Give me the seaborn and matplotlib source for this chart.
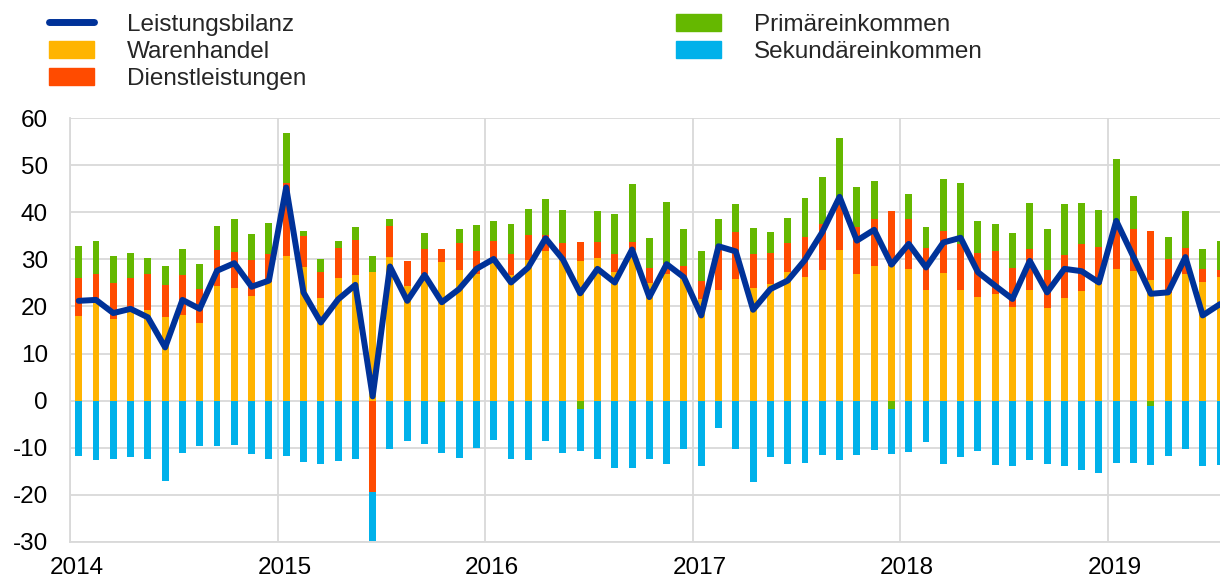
import numpy as np
import pandas as pd
import seaborn as sns
import matplotlib.pyplot as plt
from matplotlib.lines import Line2D
from matplotlib.patches import Patch

# Monthly data, Jan 2014 - Jul 2019
months = pd.date_range("2014-01", "2019-07", freq="MS").strftime("%Y-%m").tolist()

warenhandel = [17.9, 20.7, 17.4, 19.3, 19.3, 17.8, 18.2, 16.4, 24.4, 24.0, 22.3, 25.3,
               30.7, 28.3, 21.8, 26.0, 26.6, 27.4, 30.5, 24.3, 26.8, 29.5, 27.7, 27.0,
               29.3, 26.6, 29.9, 31.7, 29.8, 29.7, 30.2, 27.4, 32.0, 25.0, 26.8, 26.2,
               21.5, 23.6, 25.8, 23.9, 24.8, 27.3, 26.2, 27.8, 31.9, 26.9, 28.5, 28.7,
               27.9, 23.4, 27.2, 23.4, 22.1, 22.7, 19.8, 23.4, 19.6, 21.8, 23.2, 24.8,
               28.0, 27.6, 25.7, 22.8, 26.9, 25.1, 26.2]
dienstleistungen = [8.1, 6.1, 7.5, 6.7, 7.5, 6.8, 8.4, 7.3, 7.5, 7.5, 7.5, 5.8,
                    15.6, 6.6, 5.5, 6.4, 7.5, -19.5, 6.7, 5.4, 5.4, 2.7, 5.7, 4.7,
                    4.7, 4.6, 5.4, 3.4, 3.6, 3.9, 3.4, 3.8, 1.6, 3.1, 2.4, 2.3,
                    4.0, 9.2, 10.1, 7.2, 6.6, 6.1, 8.5, 9.7, 9.6, 10.1, 10.2, 11.5,
                    10.6, 9.0, 8.9, 9.9, 9.3, 9.0, 8.3, 8.8, 8.2, 9.1, 10.1, 7.8,
                    9.4, 8.9, 10.4, 7.2, 5.5, 2.9, 1.6]
primaereinkommen = [6.8, 7.2, 5.8, 5.4, 3.4, 3.9, 5.6, 5.3, 5.2, 7.0, 5.7, 6.6,
                    10.6, 1.2, 2.8, 1.6, 2.8, 3.3, 1.5, 0.0, 3.4, -0.3, 3.0, 5.7,
                    4.2, 6.3, 5.5, 7.7, 7.1, -1.7, 6.6, 8.4, 12.5, 6.5, 13.1, 8.0,
                    6.3, 5.7, 5.9, 5.6, 4.4, 5.4, 8.3, 10.1, 14.3, 8.5, 8.0, -1.8,
                    5.5, 4.6, 11.1, 12.9, 6.8, 5.9, 7.5, 9.8, 8.7, 10.9, 8.8, 7.9,
                    13.9, 6.9, -1.2, 4.8, 8.0, 4.2, 6.2]
sekundaereinkommen = [-11.8, -12.7, -12.4, -12.0, -12.5, -17.1, -11.1, -9.7, -9.7, -9.4, -11.3, -12.5,
                      -11.7, -13.1, -13.4, -12.8, -12.5, -10.4, -10.3, -8.6, -9.3, -10.9, -12.2, -10.1,
                      -8.3, -12.5, -12.7, -8.5, -11.1, -9.1, -12.5, -14.4, -14.4, -12.5, -13.5, -10.3,
                      -13.8, -5.9, -10.3, -17.4, -12.0, -13.5, -13.2, -11.5, -12.7, -11.5, -10.6, -9.5,
                      -11.0, -8.9, -13.5, -12.0, -10.8, -13.6, -14.0, -12.6, -13.5, -14.0, -14.7, -15.4,
                      -13.3, -13.2, -12.4, -11.8, -10.3, -14.0, -13.6]
leistungsbilanz = [21.2, 21.4, 18.6, 19.5, 17.7, 11.3, 21.4, 19.5, 27.6, 29.2, 24.2, 25.5,
                   45.3, 23.0, 16.6, 21.5, 24.6, 0.9, 28.5, 21.2, 26.7, 20.9, 23.7, 28.0,
                   30.1, 25.1, 28.3, 34.5, 30.0, 22.8, 28.0, 25.1, 32.1, 22.0, 29.0, 26.2,
                   18.1, 32.8, 31.7, 19.3, 23.7, 25.5, 29.9, 35.8, 43.3, 34.0, 36.3, 28.9,
                   33.3, 28.3, 33.6, 34.6, 27.3, 24.4, 21.6, 29.7, 23.0, 28.0, 27.5, 25.1,
                   38.2, 30.5, 22.7, 23.0, 30.5, 18.1, 20.5]
years = ["2014", "2015", "2016", "2017", "2018", "2019"]

names = ["Warenhandel", "Dienstleistungen", "Primäreinkommen", "Sekundäreinkommen"]
colors = {"Leistungsbilanz": "#003299", "Warenhandel": "#FFB400", "Dienstleistungen": "#FF4B00",
          "Primäreinkommen": "#65B800", "Sekundäreinkommen": "#00B1EA"}

df = pd.DataFrame({"Monat": months, "Warenhandel": warenhandel, "Dienstleistungen": dienstleistungen,
                   "Primäreinkommen": primaereinkommen, "Sekundäreinkommen": sekundaereinkommen,
                   "Leistungsbilanz": leistungsbilanz})
df["pos"] = np.arange(len(df))

# split into positive / negative stacks (cumulative, drawn from outermost to innermost)
pos_cum = np.zeros(len(df))
neg_cum = np.zeros(len(df))
layers = []
for name in names:
    v = df[name].to_numpy()
    pos_cum = pos_cum + np.clip(v, 0, None)
    neg_cum = neg_cum + np.clip(v, None, 0)
    layers.append((name, pos_cum.copy(), neg_cum.copy()))

sns.set_style("white")
plt.rcParams["font.family"] = ["Liberation Sans", "DejaVu Sans"]
plt.rcParams["axes.unicode_minus"] = False

fig = plt.figure(figsize=(12.2, 5.81), dpi=100)
ax = fig.add_axes([0.0574, 0.0676, 0.9426, 0.7288])

for name, top, bottom in reversed(layers):
    sns.barplot(x=df["pos"], y=top, color=colors[name], saturation=1, width=0.4,
                errorbar=None, linewidth=0, ax=ax, zorder=2)
    sns.barplot(x=df["pos"], y=bottom, color=colors[name], saturation=1, width=0.4,
                errorbar=None, linewidth=0, ax=ax, zorder=2)

sns.lineplot(x=df["pos"].to_numpy(), y=df["Leistungsbilanz"].to_numpy(), color=colors["Leistungsbilanz"],
             linewidth=4.3, ax=ax, zorder=3)

ax.set_xlim(-0.5, 66)
ax.set_ylim(-30, 60)
ax.set_yticks(range(-30, 61, 10))
year_edges = [-0.5 + 12 * i for i in range(len(years))]
ax.set_xticks([e + 0.4 for e in year_edges])
ax.set_xticklabels(years)
ax.set_xticks(year_edges, minor=True)
ax.tick_params(axis="both", which="both", length=0, labelsize=17.5, colors="black")
ax.tick_params(axis="y", pad=16)
ax.tick_params(axis="x", pad=11)
ax.set_xlabel("")
ax.set_ylabel("")

ax.set_axisbelow(True)
ax.grid(axis="y", color="#d9d9d9", linewidth=1.3)
ax.grid(axis="x", which="minor", color="#d9d9d9", linewidth=1.3)
ax.grid(axis="x", which="major", visible=False)
for side in ["top", "right"]:
    ax.spines[side].set_visible(False)
for side in ["left", "bottom"]:
    ax.spines[side].set_color("#d9d9d9")
    ax.spines[side].set_linewidth(1.3)

h1 = [Line2D([0], [0], color=colors["Leistungsbilanz"], linewidth=5),
      Patch(color=colors["Warenhandel"]), Patch(color=colors["Dienstleistungen"])]
h2 = [Patch(color=colors["Primäreinkommen"]), Patch(color=colors["Sekundäreinkommen"])]
leg_kw = dict(loc="upper left", frameon=False, fontsize=17.5, handlelength=1.85,
              handletextpad=1.35, labelspacing=0.2, borderpad=0, borderaxespad=0)
fig.legend(h1, ["Leistungsbilanz", "Warenhandel", "Dienstleistungen"],
           bbox_to_anchor=(0.040, 0.976), **leg_kw)
fig.legend(h2, ["Primäreinkommen", "Sekundäreinkommen"],
           bbox_to_anchor=(0.554, 0.976), **leg_kw)

fig.savefig("out.png", dpi=100)
